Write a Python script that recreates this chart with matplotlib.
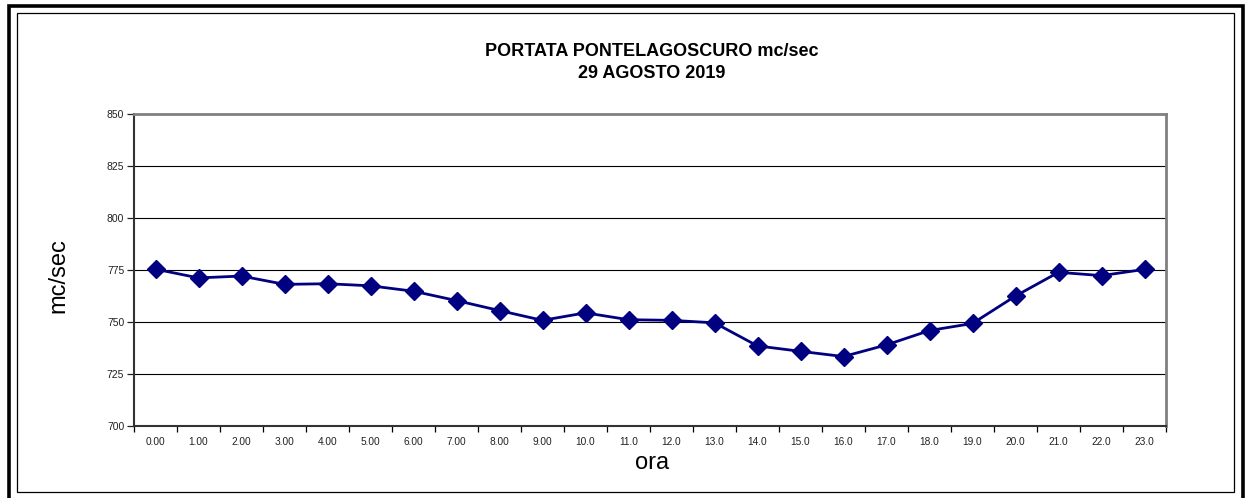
import matplotlib.pyplot as plt
from matplotlib.patches import Rectangle

plt.rcParams['font.family'] = ['Liberation Sans', 'DejaVu Sans']

# dati: ora e portata (mc/sec)
ore = list(range(24))
etichette = ['0.00', '1.00', '2.00', '3.00', '4.00', '5.00', '6.00', '7.00', '8.00', '9.00',
             '10.0', '11.0', '12.0', '13.0', '14.0', '15.0', '16.0', '17.0', '18.0', '19.0',
             '20.0', '21.0', '22.0', '23.0']
portata = [775.4, 771.2, 772.1, 768.1, 768.4, 767.4, 764.8, 760.3, 755.5, 750.8,
           754.4, 751.1, 750.8, 749.6, 738.5, 735.9, 733.4, 739.0, 745.9, 749.3,
           762.5, 773.9, 772.3, 775.3]

W, H = 1246, 498
fig = plt.figure(figsize=(W / 100, H / 100), dpi=100)

# cornici esterne
fig.patches.append(Rectangle((8.5 / W, -0.05), (1243 - 8.5) / W, (H - 6 + 0.05 * H) / H,
                             transform=fig.transFigure, fill=False, ec='black', lw=2.6))
fig.patches.append(Rectangle((17 / W, (H - 492) / H), (1234 - 17) / W, (492 - 13) / H,
                             transform=fig.transFigure, fill=False, ec='black', lw=0.9))

ax = fig.add_axes([134 / W, (H - 426) / H, (1166 - 134) / W, (426 - 114) / H])

ax.plot(ore, portata, color='#000080', lw=2.0, marker='D', ms=9.5, zorder=3)

ax.set_xlim(-0.5, 23.5)
ax.set_ylim(700, 850)
ax.set_yticks(range(700, 851, 25))
ax.grid(axis='y', color='black', lw=0.8)
ax.set_axisbelow(True)

ax.set_xticks(ore)
ax.set_xticklabels(etichette)
ax.set_xticks([i - 0.5 for i in range(25)], minor=True)
ax.tick_params(axis='x', which='major', length=0, labelsize=7.3, pad=8, colors='#222222')
ax.tick_params(axis='x', which='minor', length=4, width=0.9, direction='out')
ax.tick_params(axis='y', length=5, width=0.9, labelsize=7.5, pad=2, colors='#222222')

ax.spines['top'].set_color('#808080')
ax.spines['right'].set_color('#808080')
ax.spines['top'].set_linewidth(2)
ax.spines['right'].set_linewidth(2)
ax.spines['left'].set_color('#333333')
ax.spines['bottom'].set_color('#333333')
ax.spines['left'].set_linewidth(1.5)
ax.spines['bottom'].set_linewidth(1.5)

fig.text(652 / W, 1 - 463 / H, 'ora', ha='center', va='center', fontsize=17)
fig.text(58.5 / W, 1 - 276 / H, 'mc/sec', ha='center', va='center', fontsize=17, rotation=90)

fig.text(652 / W, 1 - 52 / H, 'PORTATA PONTELAGOSCURO mc/sec', ha='center', va='center',
         fontsize=13, fontweight='bold')
fig.text(652 / W, 1 - 74 / H, '29 AGOSTO 2019', ha='center', va='center',
         fontsize=13, fontweight='bold')

fig.savefig('out.png', dpi=100)
